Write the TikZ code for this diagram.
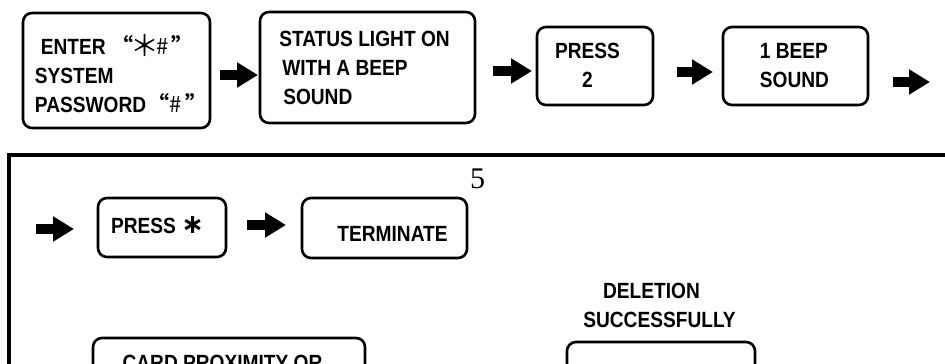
\documentclass[tikz,border=0pt]{standalone}
\usepackage{fontspec}
\setmainfont{Liberation Sans}[FakeStretch=0.87]
\newfontfamily\serifnum{Liberation Serif}
\newfontfamily\djv{DejaVu Sans}
\newfontfamily\cjk{Noto Sans CJK SC}
\usetikzlibrary{arrows.meta}
\tikzset{
  flowbox/.style={draw, line width=2.6pt, rounded corners=9pt, inner sep=0pt},
  boxtxt/.style={font=\fontsize{22}{29}\selectfont\bfseries, inner sep=0pt, align=left},
  blockarrow/.style={line width=10pt, -{Triangle[length=21pt,width=24pt]}},
  frameline/.style={line width=4pt},
}
\newcommand{\boldstar}{{\djv\bfseries\fontsize{27}{27}\selectfont ∗}}
\newcommand{\thinstar}{\raisebox{-1.5pt}{\mdseries\fontsize{29}{29}\selectfont ＊}}
\begin{document}
\begin{tikzpicture}[x=1pt,y=-1pt]
\useasboundingbox (0,0) rectangle (945,364);
\clip (0,0) rectangle (945,364);
\fill[white] (0,0) rectangle (945,364);
% top row boxes
\node[flowbox, minimum width=187pt, minimum height=115pt] (b1) at (116.5,70.5) {};
\node[flowbox, minimum width=215pt, minimum height=111pt] (b2) at (367.5,67.5) {};
\node[flowbox, minimum width=116pt, minimum height=78pt] (b3) at (595,66) {};
\node[flowbox, minimum width=145pt, minimum height=78pt] (b4) at (795.5,66) {};
% top row texts
\node[boxtxt] (t1) at (121,73.5) {\hspace*{6pt}ENTER {\cjk “\hspace{-3pt}\thinstar\hspace{-3pt}{\mdseries\#}\,”}\\SYSTEM\\PASSWORD\hspace{1pt}{\cjk “{\mdseries\#}\,”}};
\node[boxtxt] (t2) at (364.5,67.5) {STATUS LIGHT ON\\\hspace*{3pt}WITH A BEEP\\\hspace*{4pt}SOUND};
\node[boxtxt, align=center] (t3) at (587.5,65.5) {PRESS\\2};
\node[boxtxt] (t4) at (794.5,65.5) {1 BEEP\\SOUND};
% top row arrows
\coordinate (a1s) at (220,75); \coordinate (a1e) at (258,75);
\coordinate (a2s) at (493,71); \coordinate (a2e) at (532,71);
\coordinate (a3s) at (677,72); \coordinate (a3e) at (713,72);
\coordinate (a4s) at (893,82); \coordinate (a4e) at (930,82);
\draw[blockarrow] (a1s) -- (a1e);
\draw[blockarrow] (a2s) -- (a2e);
\draw[blockarrow] (a3s) -- (a3e);
\draw[blockarrow] (a4s) -- (a4e);
% frame
\draw[frameline] (9,440) -- (9,155) -- (990,155);
% page number
\node[font=\serifnum\fontsize{30}{30}\selectfont, inner sep=0pt] (pg) at (477.5,178.5) {5};
% second row
\node[flowbox, minimum width=128pt, minimum height=59pt] (b5) at (162,227.5) {};
\node[flowbox, minimum width=165pt, minimum height=60pt] (b6) at (384.5,228) {};
\node[boxtxt] (t5) at (157.5,225.5) {PRESS \boldstar};
\node[boxtxt] (t6) at (392.5,233.5) {TERMINATE};
\coordinate (a5s) at (36,229); \coordinate (a5e) at (74,229);
\coordinate (a6s) at (247,225); \coordinate (a6e) at (286,225);
\draw[blockarrow] (a5s) -- (a5e);
\draw[blockarrow] (a6s) -- (a6e);
% third row
\node[flowbox, minimum width=272pt, minimum height=82pt] (b7) at (229,379) {};
\node[boxtxt] (t7) at (222.5,362.5) {CARD PROXIMITY OR};
\node[boxtxt, align=center] (t8) at (659.5,305.5) {DELETION\hspace*{16pt}\\SUCCESSFULLY};
\node[flowbox, minimum width=188pt, minimum height=82pt] (b8) at (661,383) {};
\end{tikzpicture}
\end{document}
